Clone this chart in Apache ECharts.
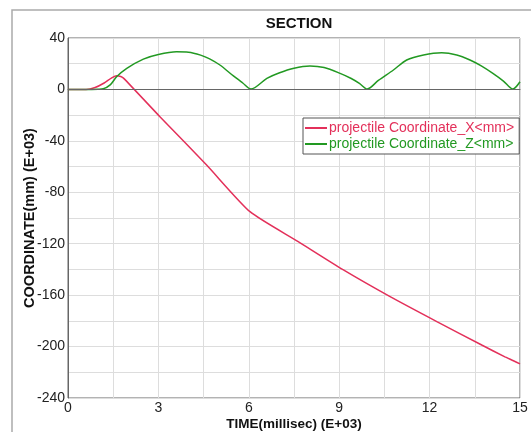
<!DOCTYPE html>
<html style="height: 100%">

<head>
  <meta charset="utf-8">
</head>

<body style="height: 100%; margin: 0; background: #fff">
  <div id="container" style="width: 531px; height: 432px"></div>
  <script type="text/javascript" src="https://cdn.jsdelivr.net/npm/echarts@6/dist/echarts.min.js"></script>
  <script type="text/javascript">
  // time axis values (E+03 millisec)
  var timeX = [0, 0.6, 0.9, 1.2, 1.45, 1.62, 1.75, 1.85, 3.05, 4.6, 6.04, 7.64, 9.14, 10.69, 12.24, 13.73, 14.5, 14.78, 15];
  var coordX = [0, 0, 1.5, 5, 9, 10.7, 10, 8.6, -21.2, -58.8, -95.1, -118.4, -140.4, -161.2, -180.6, -198.8, -208, -211, -213.5];

  var timeZ = [0, 0.6, 1.0, 1.17, 1.4, 1.62, 1.95, 2.5, 3.0, 3.6, 4.0, 4.4, 4.7, 5.04, 5.49, 5.8, 6.07,
    6.6, 7.0, 7.5, 8.03, 8.5, 9.03, 9.4, 9.67, 9.93,
    10.3, 10.8, 11.24, 11.8, 12.4, 12.9, 13.34, 13.7, 14.1, 14.45, 14.76, 15];
  var coordZ = [0, 0, 0.2, 0.5, 3.5, 10, 16.4, 23.6, 27.2, 29.3, 29, 26.7, 23.8, 19, 10.5, 5, 0.3,
    8.6, 12.8, 16.5, 18.2, 17, 12.5, 8.5, 4.7, 0.3,
    7, 15.1, 22.9, 26.8, 28.5, 26.8, 22.9, 18.5, 12.5, 6.5, 0.3, 6];

  var seriesNames = ['projectile Coordinate_X<mm>', 'projectile Coordinate_Z<mm>'];
  var seriesColors = ['#e3305a', '#229922'];

  function pairs(ts, vs) {
    return ts.map(function(t, i) { return [t, vs[i]]; });
  }

  var dom = document.getElementById("container");
  var myChart = echarts.init(dom);
  var font = 'Liberation Sans, Arial, sans-serif';

  var option = {
    animation: false,
    textStyle: { fontFamily: font },
    graphic: [{
      type: 'rect',
      shape: { x: 12, y: 10, width: 540, height: 440 },
      style: { fill: 'none', stroke: '#aaa', lineWidth: 1.5 }
    }],
    title: {
      text: 'SECTION',
      left: 294,
      top: 11,
      textAlign: 'center',
      textStyle: { fontSize: 15, fontWeight: 'bold', color: '#111', fontFamily: font }
    },
    legend: {
      orient: 'vertical',
      left: 303,
      top: 118,
      padding: [3, 5, 3, 2],
      itemGap: 2,
      itemWidth: 22,
      itemHeight: 2,
      icon: 'rect',
      borderColor: '#555',
      borderWidth: 1,
      backgroundColor: '#fff',
      textStyle: { fontSize: 14, fontFamily: font, padding: [0, 0, 0, -3] },
      data: seriesNames.map(function(n, i) {
        return { name: n, textStyle: { color: seriesColors[i] } };
      })
    },
    grid: {
      left: 68,
      top: 38,
      right: 11,
      bottom: 34,
      outerBoundsMode: 'none',
      show: true,
      borderColor: '#666',
      borderWidth: 1
    },
    xAxis: {
      type: 'value',
      min: 0,
      max: 15,
      interval: 1.5,
      name: 'TIME(millisec) (E+03)',
      nameLocation: 'middle',
      nameGap: 19,
      nameMoveOverlap: false,
      nameTextStyle: { fontSize: 13.5, fontWeight: 'bold', color: '#111' },
      axisLine: { lineStyle: { color: '#666' } },
      axisTick: { show: false },
      axisLabel: {
        fontSize: 14,
        color: '#222',
        margin: 3,
        formatter: function(v) { return Math.abs(v % 3) < 1e-6 ? String(v) : ''; }
      },
      splitLine: { lineStyle: { color: '#ddd' } }
    },
    yAxis: {
      type: 'value',
      min: -240,
      max: 40,
      interval: 20,
      name: 'COORDINATE(mm) (E+03)',
      nameLocation: 'middle',
      nameGap: 31,
      nameMoveOverlap: false,
      nameTextStyle: { fontSize: 14.5, fontWeight: 'bold', color: '#111' },
      axisLine: { show: true, lineStyle: { color: '#666' } },
      axisTick: { show: false },
      axisLabel: {
        fontSize: 14,
        color: '#222',
        margin: 3,
        formatter: function(v) { return Math.abs(v % 40) < 1e-6 ? String(v) : ''; }
      },
      splitLine: { lineStyle: { color: '#ddd' } }
    },
    series: [{
      name: seriesNames[0],
      type: 'line',
      data: pairs(timeX, coordX),
      showSymbol: false,
      smooth: 0.2,
      lineStyle: { color: seriesColors[0], width: 1.5 },
      itemStyle: { color: seriesColors[0] },
      z: 3,
      markLine: {
        silent: true,
        symbol: 'none',
        label: { show: false },
        lineStyle: { color: '#666', type: 'solid', width: 1 },
        data: [{ yAxis: 0 }]
      }
    }, {
      name: seriesNames[1],
      type: 'line',
      data: pairs(timeZ, coordZ),
      showSymbol: false,
      smooth: 0.3,
      lineStyle: { color: seriesColors[1], width: 1.5 },
      itemStyle: { color: seriesColors[1] },
      z: 4
    }]
  };

  myChart.setOption(option);
  </script>
</body>

</html>
